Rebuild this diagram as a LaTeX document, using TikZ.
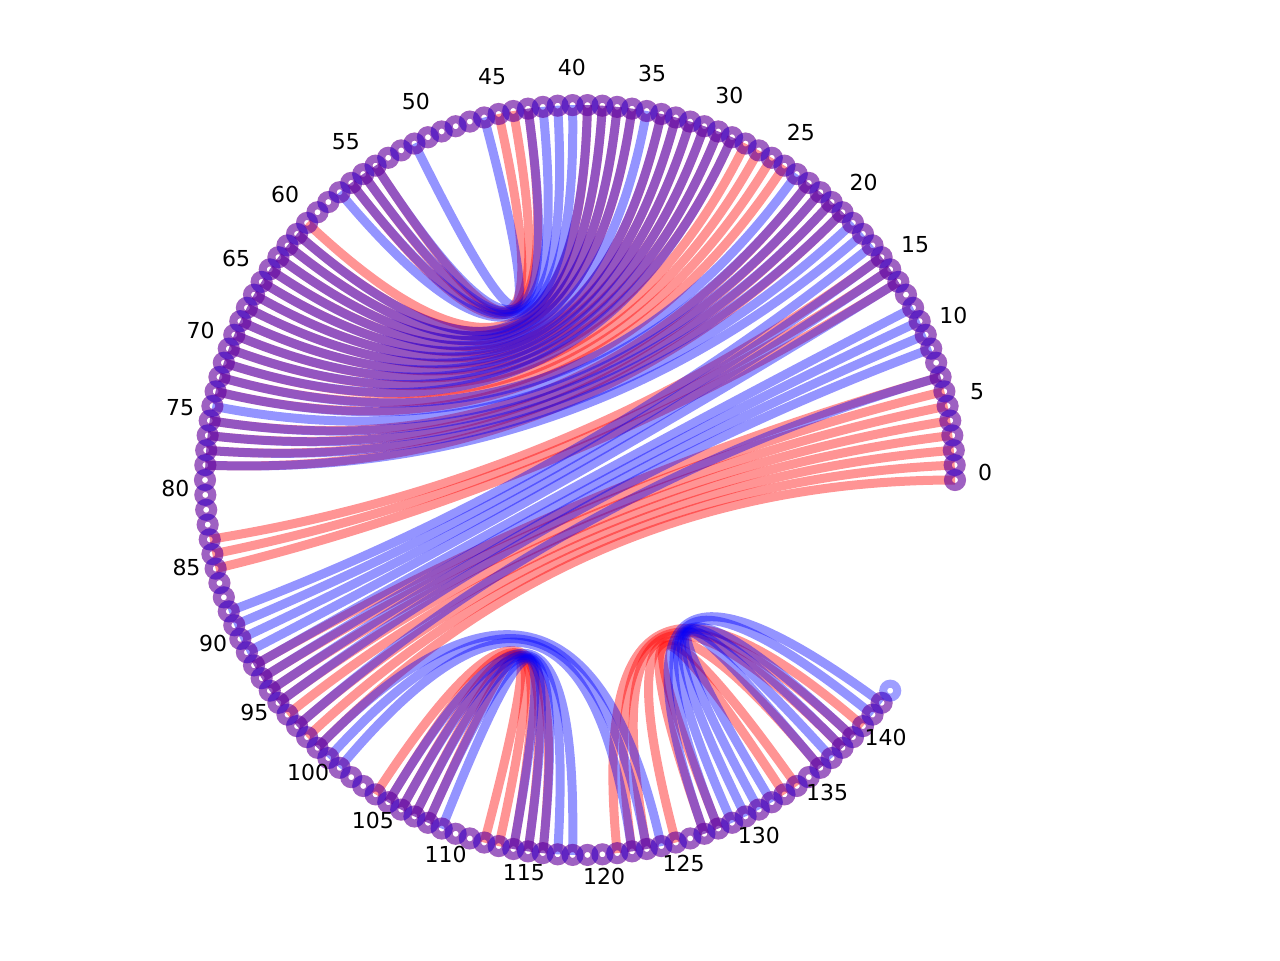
\documentclass[tikz,border=0pt]{standalone}
\usepackage{fontspec}
\setmainfont{DejaVu Sans}
\usetikzlibrary{calc}
\begin{document}
\begin{tikzpicture}[x=0.5pt,y=-0.5pt,
  redchord/.style={draw=red, draw opacity=0.42, line width=4.5pt},
  bluechord/.style={draw=blue, draw opacity=0.42, line width=4.5pt},
  redring/.style={circle, draw=red, draw opacity=0.38, line width=4pt, minimum size=7pt, inner sep=0pt},
  bluering/.style={circle, draw=blue, draw opacity=0.38, line width=4pt, minimum size=7pt, inner sep=0pt},
  lbl/.style={font=\fontsize{11}{13}\selectfont, inner sep=0pt}]
\fill[white] (0,0) rectangle (1280,960);
\useasboundingbox (0,0) rectangle (1280,960);
\coordinate (c) at (580,480);
\foreach \k in {0,...,143} \coordinate (n\k) at ($(c)+(-\k*2.2785:375)$);
% red structure
\foreach \a/\b in {0/99,1/98,2/97,3/96,4/95,5/94,6/93,7/92,14/85,15/84,16/83,20/78,21/77,22/76,23/75,25/73,26/72,27/71,28/70,29/69,30/68,31/67,32/66,33/65,34/64,36/63,37/62,38/61,39/60,43/56,44/55,45/54,104/116,105/115,106/114,107/113,108/112,121/140,122/139,123/138,125/136,127/134,128/133}
  \draw[redchord] (n\a) .. controls ($(n\a)!0.6667!(c)$) and ($(n\b)!0.6667!(c)$) .. (n\b);
% blue structure
\foreach \a/\b in {7/97,9/95,10/94,11/93,12/92,14/91,15/90,16/89,17/88,18/78,19/77,20/76,21/75,22/74,23/73,24/72,29/71,30/70,31/69,32/68,33/67,34/66,35/65,36/64,37/63,38/62,39/61,40/57,41/56,42/55,43/54,46/51,99/124,100/123,101/122,105/118,106/117,107/116,108/115,109/114,127/142,128/141,129/139,130/138,131/137,132/136}
  \draw[bluechord] (n\a) .. controls ($(n\a)!0.6667!(c)$) and ($(n\b)!0.6667!(c)$) .. (n\b);
% rings
\foreach \k in {0,...,142} \node[redring] (r\k) at (n\k) {};
\foreach \k in {0,...,143} \node[bluering] (b\k) at (n\k) {};
% labels
\foreach \k in {0,5,...,140} \node[lbl] (l\k) at ($(c)+(-\k*2.2785:405)+(0,-8)$) {\k};
\end{tikzpicture}
\end{document}
